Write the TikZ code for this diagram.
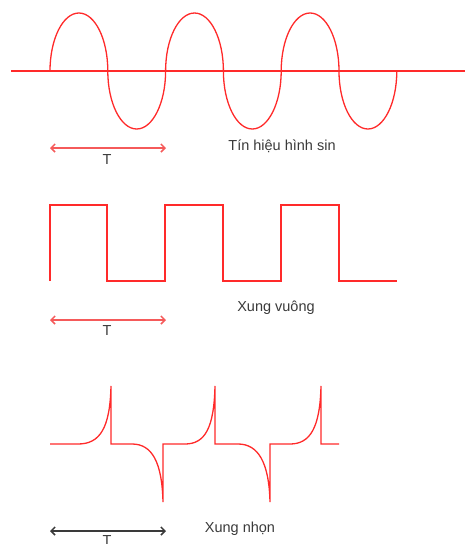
\documentclass[tikz,border=0pt]{standalone}
\usepackage{fontspec}
\setmainfont{Liberation Sans}
\usetikzlibrary{arrows.meta}
\definecolor{wave}{HTML}{FF2A2A}
\definecolor{tarrow}{HTML}{F55A5A}
\definecolor{txt}{HTML}{3A3A3A}
\tikzset{
  wav/.style={draw=wave, line width=1.3pt, line join=miter},
  per/.style={line width=1.5pt, {Straight Barb[length=4pt,width=8pt]}-{Straight Barb[length=4pt,width=8pt]}},
  lbl/.style={text=txt, font=\fontsize{14.5}{16}\selectfont, inner sep=0pt}
}
\begin{document}
\begin{tikzpicture}[x=1pt,y=-1pt]
\useasboundingbox (0,0) rectangle (465,544);
% sine
\draw[wav] (11,71) -- (465,71);
\draw[wav] (50,71) arc[start angle=180,end angle=360,x radius=28.9,y radius=58]
  arc[start angle=180,end angle=0,x radius=28.9,y radius=58]
  arc[start angle=180,end angle=360,x radius=28.9,y radius=58]
  arc[start angle=180,end angle=0,x radius=28.9,y radius=58]
  arc[start angle=180,end angle=360,x radius=28.9,y radius=58]
  arc[start angle=180,end angle=0,x radius=28.9,y radius=58];
\coordinate (a1) at (50,148); \coordinate (b1) at (166,148);
\draw[per, draw=tarrow] (a1) -- (b1);
\node[lbl] (t1) at (107,160) {T};
\node[lbl] (l1) at (282,146) {Tín hiệu hình sin};
% square
\draw[wav] (50,281) -- (50,205) -- (107,205) -- (107,281) -- (165,281) -- (165,205)
  -- (223,205) -- (223,281) -- (281,281) -- (281,205) -- (339,205) -- (339,281) -- (397,281);
\coordinate (a2) at (50,320); \coordinate (b2) at (166,320);
\draw[per, draw=tarrow] (a2) -- (b2);
\node[lbl] (t2) at (107,331) {T};
\node[lbl] (l2) at (276,308) {Xung vuông};
% spikes
\draw[wav] (50,444) -- (78,444) .. controls (100,444) and (110,428) .. (111,386)
  -- (111,444) -- (132,444) .. controls (152,444) and (162,462) .. (163,502)
  -- (163,444) -- (185,444) .. controls (205,444) and (214,428) .. (215,386)
  -- (215,444) -- (238,444) .. controls (258,444) and (269,462) .. (270,502)
  -- (270,444) -- (290,444) .. controls (310,444) and (320,428) .. (321,386)
  -- (321,444) -- (339,444);
\coordinate (a3) at (50,531); \coordinate (b3) at (166,531);
\draw[per, draw=txt] (a3) -- (b3);
\node[lbl] (t3) at (107,541) {T};
\node[lbl] (l3) at (240,529) {Xung nhọn};
\end{tikzpicture}
\end{document}
